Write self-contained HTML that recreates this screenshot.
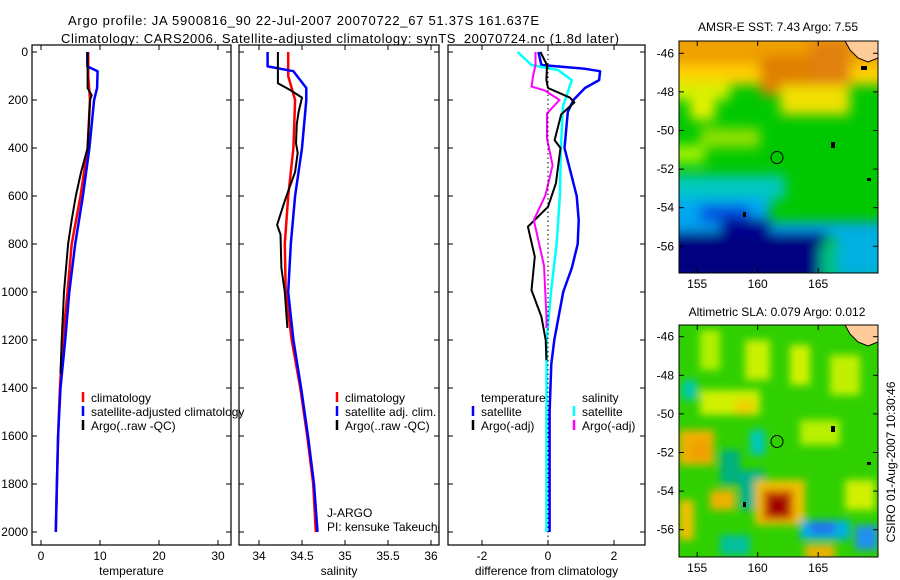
<!DOCTYPE html>
<html><head><meta charset="utf-8"><style>
body{margin:0;background:#fff;}
svg{display:block;font-family:"Liberation Sans",sans-serif;}
</style></head><body>
<svg id="fig" width="900" height="580" viewBox="0 0 900 580">
<defs>
<filter id="bl" x="-20%" y="-20%" width="140%" height="140%"><feGaussianBlur stdDeviation="6"/></filter>
<filter id="bl2" x="-20%" y="-20%" width="140%" height="140%"><feGaussianBlur stdDeviation="4"/></filter>
<clipPath id="c1"><rect x="679" y="41" width="199" height="232"/></clipPath>
<clipPath id="c2"><rect x="679" y="325" width="199" height="232"/></clipPath>
</defs>
<text x="68" y="25" font-size="13" textLength="471">Argo profile: JA 5900816_90 22-Jul-2007 20070722_67 51.37S 161.637E</text>
<text x="61" y="43" font-size="13" textLength="558">Climatology: CARS2006. Satellite-adjusted climatology: synTS_20070724.nc (1.8d later)</text>
<g id="panels"></g>

<!-- SST map -->
<g>
<text x="778" y="31" font-size="12" text-anchor="middle">AMSR-E SST: 7.43 Argo: 7.55</text>
<g clip-path="url(#c1)">
<rect x="679" y="41" width="199" height="232" fill="#00c800"/>
<g filter="url(#bl)">
<rect x="660" y="30" width="240" height="40" fill="#f0a000"/>
<rect x="660" y="65" width="240" height="20" fill="#ffd000"/>
<rect x="760" y="55" width="80" height="40" fill="#e08000"/>
<rect x="810" y="40" width="40" height="60" fill="#e08010"/>
<rect x="660" y="82" width="70" height="18" fill="#d8f000"/>
<rect x="780" y="85" width="70" height="30" fill="#f0e000"/>
<rect x="690" y="100" width="25" height="20" fill="#e8f000"/>
<rect x="700" y="128" width="60" height="20" fill="#90e000"/>
<rect x="660" y="145" width="45" height="18" fill="#a0f000"/>
<rect x="660" y="175" width="125" height="25" fill="#00c8c0"/>
<rect x="660" y="198" width="110" height="25" fill="#00a8f0"/>
<rect x="700" y="205" width="50" height="18" fill="#0050e0"/>
<rect x="660" y="222" width="240" height="15" fill="#00a0f0"/>
<rect x="660" y="232" width="165" height="50" fill="#000080"/>
<rect x="720" y="218" width="50" height="18" fill="#000090"/>
<rect x="835" y="230" width="60" height="50" fill="#00b0e0"/>
<rect x="820" y="245" width="18" height="35" fill="#00c080"/>
</g>
<path d="M845 41 L878 41 L878 58 L868 62 L858 58 L850 50 Z" fill="#ffcc99" stroke="#000" stroke-width="1"/>
<rect x="861" y="66" width="6" height="4" fill="#000"/>
<rect x="831" y="142" width="4" height="6" fill="#000"/>
<rect x="867" y="178" width="4" height="3" fill="#000"/>
<rect x="743" y="212" width="3" height="5" fill="#000"/>
</g>
<circle cx="777" cy="157.5" r="6" fill="none" stroke="#000"/>
<rect x="679" y="41" width="199" height="232" fill="none" stroke="#000"/>
</g>

<!-- SLA map -->
<g>
<text x="777" y="316" font-size="12" text-anchor="middle">Altimetric SLA: 0.079 Argo: 0.012</text>
<g clip-path="url(#c2)">
<rect x="679" y="325" width="199" height="232" fill="#30d000"/>
<g filter="url(#bl2)">
<rect x="700" y="330" width="20" height="40" fill="#b0f000"/>
<rect x="745" y="340" width="25" height="40" fill="#c8f000"/>
<rect x="790" y="345" width="20" height="40" fill="#d0f000"/>
<rect x="830" y="355" width="30" height="40" fill="#c0f000"/>
<rect x="700" y="390" width="60" height="25" fill="#d0f000"/>
<rect x="735" y="400" width="20" height="15" fill="#f0d000"/>
<rect x="800" y="420" width="40" height="25" fill="#b8f000"/>
<rect x="679" y="430" width="35" height="35" fill="#f0b000"/>
<rect x="690" y="440" width="20" height="20" fill="#f0a000"/>
<rect x="682" y="380" width="15" height="20" fill="#00c8b0"/>
<rect x="750" y="430" width="15" height="25" fill="#00c8c0"/>
<rect x="720" y="450" width="20" height="35" fill="#00b080"/>
<rect x="740" y="470" width="25" height="40" fill="#00b090"/>
<rect x="710" y="490" width="25" height="20" fill="#f0b000"/>
<rect x="755" y="480" width="50" height="45" fill="#f0c000"/>
<rect x="763" y="490" width="30" height="30" fill="#d05000"/>
<rect x="768" y="496" width="20" height="20" fill="#a00000"/>
<rect x="679" y="500" width="15" height="40" fill="#f0c000"/>
<rect x="800" y="520" width="50" height="20" fill="#00b0e0"/>
<rect x="810" y="522" width="25" height="12" fill="#2070f0"/>
<rect x="855" y="525" width="23" height="25" fill="#2090f0"/>
<rect x="720" y="535" width="30" height="20" fill="#00c0a0"/>
<rect x="805" y="545" width="30" height="15" fill="#f0b000"/>
<rect x="845" y="480" width="30" height="30" fill="#d0f000"/>
</g>
<path d="M845 325 L878 325 L878 342 L868 346 L858 342 L850 334 Z" fill="#ffcc99" stroke="#000" stroke-width="1"/>
<rect x="831" y="426" width="4" height="6" fill="#000"/>
<rect x="867" y="462" width="4" height="3" fill="#000"/>
<rect x="743" y="502" width="3" height="5" fill="#000"/>
</g>
<circle cx="777" cy="441.5" r="6" fill="none" stroke="#000"/>
<rect x="679" y="325" width="199" height="232" fill="none" stroke="#000"/>
</g>
<g id="mapaxes"></g>
<text transform="translate(895,462) rotate(-90)" font-size="12" text-anchor="middle">CSIRO 01-Aug-2007 10:30:46</text>
</svg>
<script>
// Profile data (depth in m)
const depthClim = [0,100,200,400,600,800,1000,1200,1400,1600,1800,2000];
const tempClim = [8.0,8.0,8.3,7.9,6.7,5.2,4.5,3.7,3.2,2.9,2.7,2.5];
const depthSat = [0,60,80,150,200,400,600,800,1000,1200,1400,1600,1800,2000];
const tempSat = [7.85,7.85,9.6,9.5,9.0,8.2,7.1,5.8,4.8,4.1,3.3,2.9,2.7,2.5];
const depthArgo = [0,150,180,200,400,500,600,700,800,1000,1200,1340];
const tempArgo = [7.9,7.9,8.6,8.3,7.9,6.8,5.9,5.2,4.6,3.9,3.5,3.3];
const salClim = [34.34,34.34,34.42,34.40,34.34,34.30,34.31,34.38,34.48,34.56,34.63,34.66];
const salSat = [34.10,34.10,34.40,34.55,34.55,34.50,34.42,34.37,34.34,34.40,34.49,34.57,34.64,34.68];
const depthArgoS = [0,130,160,190,250,300,380,420,500,580,620,720,760,900,1000,1150];
const salArgo = [34.22,34.22,34.37,34.50,34.46,34.44,34.43,34.45,34.42,34.34,34.30,34.21,34.25,34.26,34.30,34.33];
const depthDiff = [0,54,70,80,117,150,200,250,400,600,700,800,900,1000,1200,1300,1500,2000];
const diffTSat = [-0.29,-0.2,1.12,1.58,1.55,1.12,0.77,0.6,0.5,0.87,0.93,0.9,0.72,0.46,0.19,0.1,0.05,0.05];
const depthDiffS = [0,54,75,117,228,400,600,800,1000,1200,1500,2000];
const diffSSat = [-0.92,-0.5,0.3,0.72,0.45,0.39,0.36,0.26,0.09,-0.04,-0.05,-0.05];
const depthDiffA = [0,54,117,150,190,210,260,367,400,547,645,728,853,992,1103,1200,1284];
const diffTArgo = [-0.23,-0.03,-0.05,0.0,0.66,0.8,0.4,0.2,0.38,0.24,0.0,-0.61,-0.4,-0.5,-0.2,-0.07,-0.05];
const depthDiffAS = [0,54,100,144,160,200,256,361,472,597,700,890,1097,1150];
const diffSArgo = [-0.38,-0.38,-0.45,-0.5,-0.1,0.35,-0.03,-0.03,0.14,-0.08,-0.43,-0.12,-0.05,-0.05];
const depthTicks = [0,200,400,600,800,1000,1200,1400,1600,1800,2000];
const tempTicks = [0,10,20,30];
const salTicks = [34,34.5,35,35.5,36];
const diffTicks = [-2,0,2];
const latTicks = [-46,-48,-50,-52,-54,-56];
const lonTicks = [155,160,165];

const NS='http://www.w3.org/2000/svg';
const root=document.getElementById('panels');
const yTop=52, yScale=0.24, boxTop=45, boxBot=545;
const yD=d=>yTop+d*yScale;
function mk(tag,attrs,parent){const e=document.createElementNS(NS,tag);for(const k in attrs)e.setAttribute(k,attrs[k]);(parent||root).appendChild(e);return e;}

const panels=[
 {x0:32,x1:231,vx:0,px:41,s:5.9,ticks:tempTicks,label:'temperature',name:'temperature-panel',ylabels:true},
 {x0:239,x1:439,vx:34,px:259,s:86,ticks:salTicks,label:'salinity',name:'salinity-panel'},
 {x0:448,x1:645,vx:0,px:548,s:33,ticks:diffTicks,label:'difference from climatology',name:'difference-panel'}
];
panels.forEach(p=>{p.xf=v=>p.px+(v-p.vx)*p.s;});

panels.forEach(p=>{
 const g=mk('g',{});
 
 
 p.g=g;
 const b=mk('rect',{x:p.x0,y:boxTop,width:p.x1-p.x0,height:boxBot-boxTop,fill:'none',stroke:'#000','stroke-width':1.2},g);
 
 
 depthTicks.forEach(d=>{
  const y=yD(d);
  mk('line',{x1:p.x0,x2:p.x0+5,y1:y,y2:y,stroke:'#000'},g);
  mk('line',{x1:p.x1,x2:p.x1-5,y1:y,y2:y,stroke:'#000'},g);
  if(p.ylabels){const t=mk('text',{x:28,y:y+4,'font-size':12,'text-anchor':'end'},g);t.textContent=d;
   
   }
 });
 p.ticks.forEach(v=>{
  const x=p.xf(v);
  mk('line',{x1:x,x2:x,y1:boxBot,y2:boxBot-5,stroke:'#000'},g);
  mk('line',{x1:x,x2:x,y1:boxTop,y2:boxTop+5,stroke:'#000'},g);
  const t=mk('text',{x:x,y:560,'font-size':12,'text-anchor':'middle'},g);t.textContent=v;
  
  
 });
 const l=mk('text',{x:(p.x0+p.x1)/2,y:575,'font-size':12,'text-anchor':'middle'},g);l.textContent=p.label;
 
 
});
const zl=mk('line',{x1:panels[2].xf(0),x2:panels[2].xf(0),y1:boxTop,y2:boxBot,stroke:'#000','stroke-dasharray':'1.5,3'});



function series(p,depths,vals,color,w,name){
 const pts=depths.map((d,i)=>p.xf(vals[i]).toFixed(1)+','+yD(d).toFixed(1)).join(' ');
 const e=mk('polyline',{points:pts,fill:'none',stroke:color,'stroke-width':w,'stroke-linejoin':'round'},p.g);
 
 
}
series(panels[0],depthClim,tempClim,'#ff0000',2.5,'temp-climatology-line');
series(panels[0],depthSat,tempSat,'#0000ff',2.5,'temp-satellite-line');
series(panels[0],depthArgo,tempArgo,'#000',2,'temp-argo-line');
series(panels[1],depthClim,salClim,'#ff0000',2.5,'sal-climatology-line');
series(panels[1],depthSat,salSat,'#0000ff',2.5,'sal-satellite-line');
series(panels[1],depthArgoS,salArgo,'#000',2,'sal-argo-line');
series(panels[2],depthDiff,diffTSat,'#0000ff',2.5,'diff-temp-satellite-line');
series(panels[2],depthDiffS,diffSSat,'#00ffff',2.5,'diff-sal-satellite-line');
series(panels[2],depthDiffA,diffTArgo,'#000',2,'diff-temp-argo-line');
series(panels[2],depthDiffAS,diffSArgo,'#ff00ff',2,'diff-sal-argo-line');

function legend(g,x,y,color,text,name){
 if(color){const m=mk('line',{x1:x,x2:x,y1:y-10,y2:y,stroke:color,'stroke-width':2.5},g);
  
  }
 const t=mk('text',{x:x+8,y:y,'font-size':12},g);t.textContent=text;
 
 
}
legend(panels[0].g,83,402,'#ff0000','climatology','legend-climatology');
legend(panels[0].g,83,416,'#0000ff','satellite-adjusted climatology','legend-satellite');
legend(panels[0].g,83,430,'#000','Argo(..raw -QC)','legend-argo');
legend(panels[1].g,337,402,'#ff0000','climatology','legend-climatology');
legend(panels[1].g,337,416,'#0000ff','satellite adj. clim.','legend-satellite');
legend(panels[1].g,337,430,'#000','Argo(..raw -QC)','legend-argo');
legend(panels[1].g,319,517,null,'J-ARGO','j-argo-label');
legend(panels[1].g,319,531,null,'PI: kensuke Takeuchi','pi-label');
legend(panels[2].g,473,402,null,'temperature','legend-temperature-header');
legend(panels[2].g,473,416,'#0000ff','satellite','legend-temp-satellite');
legend(panels[2].g,473,430,'#000','Argo(-adj)','legend-temp-argo');
legend(panels[2].g,574,402,null,'salinity','legend-salinity-header');
legend(panels[2].g,574,416,'#00ffff','satellite','legend-sal-satellite');
legend(panels[2].g,574,430,'#ff00ff','Argo(-adj)','legend-sal-argo');

const ma=document.getElementById('mapaxes');
const lonX=l=>757.7+(l-160)*12.1;
[[41,273,53.3],[325,557,336.7]].forEach(([t,b,y46])=>{
 latTicks.forEach(la=>{
  const y=y46+(-46-la)*19.3;
  mk('line',{x1:679,x2:684,y1:y,y2:y,stroke:'#000'},ma);
  mk('line',{x1:878,x2:873,y1:y,y2:y,stroke:'#000'},ma);
  const tx=mk('text',{x:674,y:y+4,'font-size':12,'text-anchor':'end'},ma);tx.textContent=la;
  
  
 });
 lonTicks.forEach(lo=>{
  const x=lonX(lo);
  mk('line',{x1:x,x2:x,y1:b,y2:b-5,stroke:'#000'},ma);
  mk('line',{x1:x,x2:x,y1:t,y2:t+5,stroke:'#000'},ma);
  const tx=mk('text',{x:x,y:b+15,'font-size':12,'text-anchor':'middle'},ma);tx.textContent=lo;
  
  
 });
});
</script>
</body></html>
